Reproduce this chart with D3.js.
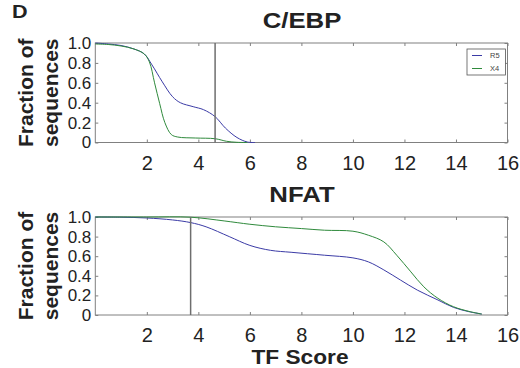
<!DOCTYPE html>
<html>
<head>
<meta charset="utf-8">
<script src="https://cdn.jsdelivr.net/npm/d3@7"></script>
<style>
  body { margin: 0; background: #fff; }
  svg { display: block; font-family: "Liberation Sans", Arial, sans-serif; }
</style>
</head>
<body>
<div id="container"></div>
<script>
// Chart size
const width = 520;
const height = 368;

// Data
const seriesNames = ["R5", "X4"];
const seriesColors = ["#3b3ba6", "#2f8a3c"];

// C/EBP panel
const cebpR5X = [0, 0.5, 1.0, 1.5, 1.9, 2.2, 2.6, 3.0, 3.3, 3.8, 4.2, 4.65, 5.05, 5.5, 5.9, 6.2];
const cebpR5Y = [1.0, 0.99, 0.975, 0.94, 0.89, 0.78, 0.61, 0.46, 0.40, 0.36, 0.33, 0.26, 0.145, 0.05, 0.005, 0];
const cebpX4X = [0, 0.5, 1.0, 1.5, 1.9, 2.1, 2.3, 2.5, 2.7, 2.95, 3.2, 3.9, 4.65, 5.1, 5.5, 5.9];
const cebpX4Y = [0.99, 0.985, 0.97, 0.94, 0.89, 0.81, 0.60, 0.39, 0.20, 0.08, 0.055, 0.045, 0.038, 0.012, 0.002, 0];

// NFAT panel
const nfatR5X = [0, 1, 2, 3, 3.7, 4.3, 5.2, 6, 6.8, 7.6, 8.9, 10, 10.6, 11.2, 11.85, 12.5, 13.3, 13.9, 14.5, 15];
const nfatR5Y = [1.0, 0.998, 0.99, 0.97, 0.943, 0.90, 0.80, 0.71, 0.66, 0.64, 0.61, 0.583, 0.542, 0.46, 0.356, 0.254, 0.153, 0.078, 0.034, 0.01];
const nfatX4X = [0, 2, 3.7, 5.0, 6.0, 7.0, 8.0, 8.9, 10, 10.6, 11.2, 11.7, 12.25, 12.75, 13.3, 13.9, 14.55, 15];
const nfatX4Y = [1.0, 1.0, 0.998, 0.96, 0.926, 0.9, 0.882, 0.865, 0.855, 0.814, 0.746, 0.61, 0.44, 0.288, 0.17, 0.085, 0.034, 0.01];

// Threshold lines
const cebpThreshold = 4.65;
const nfatThreshold = 3.7;

// Axis ticks
const xTicks = [2, 4, 6, 8, 10, 12, 14, 16];
const yTicks = [0, 0.2, 0.4, 0.6, 0.8, 1.0];

const panels = [
    { title: "C/EBP", top: 43, bottom: 142.5, threshold: cebpThreshold,
      series: [[cebpR5X, cebpR5Y], [cebpX4X, cebpX4Y]], legend: true },
    { title: "NFAT", top: 217, bottom: 315, threshold: nfatThreshold,
      series: [[nfatR5X, nfatR5Y], [nfatX4X, nfatX4Y]], legend: false }
];

const left = 95.3, right = 507.5;
const frameColor = "#808080";

const svg = d3.select("#container").append("svg")
    .attr("width", width)
    .attr("height", height);

svg.append("rect").attr("width", width).attr("height", height).attr("fill", "#fff");

const x = d3.scaleLinear().domain([0, 16]).range([left, right]);

// panel letter
svg.append("text")
    .attr("transform", "translate(12,17.5) scale(1.2,1)")
    .attr("font-size", 18).attr("font-weight", "bold")
    .attr("fill", "#222")
    .text("D");

panels.forEach(p => {
    const y = d3.scaleLinear().domain([0, 1]).range([p.bottom, p.top]);
    const g = svg.append("g");

    // title, a little wider like the source
    g.append("text")
        .attr("transform", `translate(302,${p.top - 15}) scale(1.12,1)`)
        .attr("text-anchor", "middle")
        .attr("font-size", 23).attr("font-weight", "bold")
        .attr("fill", "#222")
        .text(p.title);

    // y label
    const cy = (p.top + p.bottom) / 2;
    g.append("text")
        .attr("transform", `translate(33,${cy}) rotate(-90)`)
        .attr("text-anchor", "middle")
        .attr("font-size", 21).attr("font-weight", "bold")
        .attr("fill", "#222")
        .text("Fraction of");
    g.append("text")
        .attr("transform", `translate(58,${cy}) rotate(-90)`)
        .attr("text-anchor", "middle")
        .attr("font-size", 21).attr("font-weight", "bold")
        .attr("fill", "#222")
        .text("sequences");

    // axes with inward ticks
    const fmt = d => d === 0 ? "0" : d.toFixed(1);
    const ax = [
        g.append("g").attr("transform", `translate(${left},0)`)
            .call(d3.axisLeft(y).tickValues(yTicks).tickSize(-3).tickPadding(4).tickFormat(fmt)),
        g.append("g").attr("transform", `translate(${right},0)`)
            .call(d3.axisRight(y).tickValues(yTicks).tickSize(-3).tickFormat("")),
        g.append("g").attr("transform", `translate(0,${p.bottom})`)
            .call(d3.axisBottom(x).tickValues(xTicks).tickSize(-3).tickPadding(13)),
        g.append("g").attr("transform", `translate(0,${p.top})`)
            .call(d3.axisTop(x).tickValues(xTicks).tickSize(-3).tickFormat(""))
    ];
    ax.forEach(a => {
        a.select(".domain").remove();
        a.selectAll(".tick line").attr("stroke", frameColor);
        a.selectAll("text").attr("fill", "#222")
            .attr("font-family", "'Liberation Sans', Arial, sans-serif");
    });
    ax[0].selectAll("text").attr("font-size", 17);
    ax[2].selectAll("text").attr("font-size", 20);

    // frame
    g.append("rect")
        .attr("x", left).attr("y", p.top)
        .attr("width", right - left).attr("height", p.bottom - p.top)
        .attr("fill", "none").attr("stroke", frameColor).attr("stroke-width", 1);

    // curves
    const line = d3.line()
        .x(d => x(d[0]))
        .y(d => y(d[1]))
        .curve(d3.curveCatmullRom.alpha(0.5));

    p.series.forEach((s, i) => {
        const pts = s[0].map((v, j) => [v, s[1][j]]);
        g.append("path")
            .datum(pts)
            .attr("d", line)
            .attr("fill", "none")
            .attr("stroke", seriesColors[i])
            .attr("stroke-width", 1);
    });

    // threshold
    g.append("line")
        .attr("x1", x(p.threshold)).attr("x2", x(p.threshold))
        .attr("y1", p.top).attr("y2", p.bottom)
        .attr("stroke", "#6e6e6e").attr("stroke-width", 1.5);

    // legend
    if (p.legend) {
        const lg = g.append("g").attr("transform", "translate(467,49)");
        lg.append("rect")
            .attr("width", 38.5).attr("height", 26)
            .attr("fill", "#fff").attr("stroke", "#555").attr("stroke-width", 0.8);
        seriesNames.forEach((name, i) => {
            const yy = 6.5 + i * 13;
            lg.append("line")
                .attr("x1", 5).attr("x2", 15).attr("y1", yy).attr("y2", yy)
                .attr("stroke", seriesColors[i]).attr("stroke-width", 1);
            lg.append("text")
                .attr("x", 23).attr("y", yy).attr("dy", "0.35em")
                .attr("font-size", 7.5).attr("fill", "#444")
                .text(name);
        });
    }
});

// x label
svg.append("text")
    .attr("transform", "translate(300,364) scale(1.08,1)")
    .attr("text-anchor", "middle")
    .attr("font-size", 21).attr("font-weight", "bold")
    .attr("fill", "#222")
    .text("TF Score");
</script>
</body>
</html>
